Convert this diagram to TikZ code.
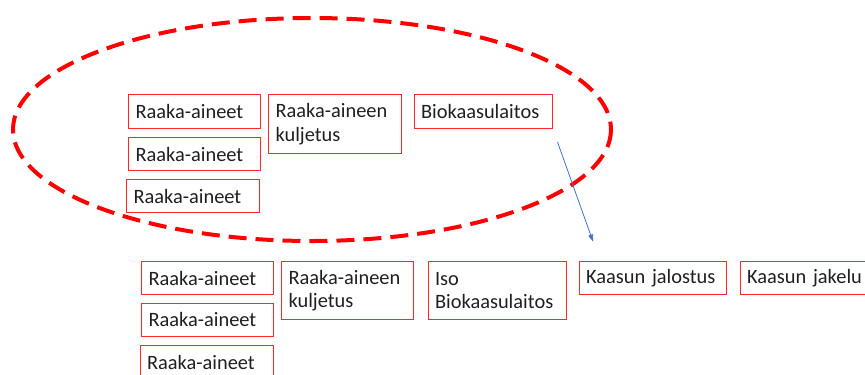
\documentclass[tikz,border=0pt]{standalone}
\usepackage{fontspec}
\setmainfont{Carlito}
\usetikzlibrary{arrows.meta}
\definecolor{boxred}{RGB}{255,40,40}
\definecolor{arrowblue}{RGB}{68,114,196}
\tikzset{
  box/.style={draw=boxred, line width=1.1bp, anchor=north west, inner xsep=7bp, inner ysep=0bp,
    align=left, font=\fontsize{20.4bp}{23.6bp}\selectfont, text=black!88},
  group/.style={draw=red, line width=4bp, dash pattern=on 18bp off 9bp},
  flow/.style={draw=arrowblue, line width=0.8bp, -{Triangle[length=7bp,width=5bp]}}
}
\newcommand{\boxat}[6]{%
  \node[box, minimum width=#4bp, minimum height=#5bp, text width=#4bp-14bp] (#1) at (#2,#3) {#6};}
\begin{document}
\begin{tikzpicture}[x=1bp,y=-1bp]
  \useasboundingbox (0,0) rectangle (865,374);
  \clip (0,0) rectangle (865,374);
  % dashed group outline
  \draw[group] (312,129.5) ellipse [x radius=299, y radius=111.5];
  % small plant chain
  \boxat{ra1}{128}{94}{132}{34}{Raaka-aineet}
  \boxat{ra2}{128}{137}{132}{33}{Raaka-aineet}
  \boxat{ra3}{126}{179}{133}{33}{Raaka-aineet}
  \boxat{kul}{268}{94}{133}{59}{Raaka-aineen\\kuljetus}
  \boxat{bio}{413.5}{94}{138}{34}{Biokaasulaitos}
  % large plant chain
  \boxat{rb1}{141}{261}{132}{33}{Raaka-aineet}
  \boxat{rb2}{141}{302.5}{132}{33.5}{Raaka-aineet}
  \boxat{rb3}{139.5}{345}{133}{34}{Raaka-aineet}
  \boxat{kulb}{281}{261}{132}{58}{Raaka-aineen\\kuljetus}
  \boxat{iso}{427.5}{261}{138}{58}{Iso\\Biokaasulaitos}
  \boxat{jal}{578.5}{261}{147}{33}{Kaasun jalostus}
  \boxat{jak}{739.5}{261}{140}{33}{Kaasun jakelu}
  % scale-up arrow
  \coordinate (a1) at (557.5,142);
  \coordinate (a2) at (593,241.5);
  \draw[flow] (a1) -- (a2);
\end{tikzpicture}
\end{document}
